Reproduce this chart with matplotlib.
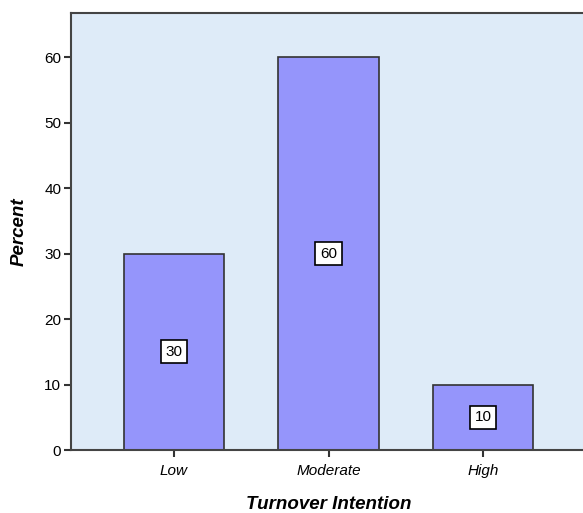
import matplotlib
matplotlib.use("Agg")
import matplotlib.pyplot as plt

categories = ["Low", "Moderate", "High"]
percent = [30, 60, 10]
yticks = [0, 10, 20, 30, 40, 50, 60]

plt.rcParams['font.family'] = ['Liberation Sans', 'DejaVu Sans']

fig = plt.figure(figsize=(5.83, 5.13), dpi=100)
ax = fig.add_axes([71/583, 63/513, 515/583, 437.5/513])
ax.set_facecolor('#deebf8')

x = list(range(len(categories)))
ax.bar(x, percent, width=0.65, color='#9595fb', edgecolor='#333333', linewidth=1.2, zorder=2)

for xi, v in zip(x, percent):
    ax.text(xi, v / 2, str(v), ha='center', va='center', fontsize=11, zorder=3,
            bbox=dict(boxstyle='square,pad=0.3', facecolor='white', edgecolor='black', linewidth=1.2))

ax.set_xlim(-0.667, 2.667)
ax.set_ylim(0, 66.8)
ax.set_xticks(x)
ax.set_xticklabels(categories, fontstyle='italic', fontsize=11)
ax.set_yticks(yticks)
ax.tick_params(axis='both', direction='out', length=5, width=1.5, color='#333333', labelsize=11, pad=2)
ax.tick_params(axis='x', pad=5)

for side in ['left', 'bottom', 'top', 'right']:
    ax.spines[side].set_color('#444444')
    ax.spines[side].set_linewidth(1.5)

ax.set_xlabel("Turnover Intention", fontsize=13.5, fontweight='bold', fontstyle='italic', labelpad=13)
ax.set_ylabel("Percent", fontsize=13.5, fontweight='bold', fontstyle='italic', labelpad=12)

plt.savefig("out.png", dpi=100)
